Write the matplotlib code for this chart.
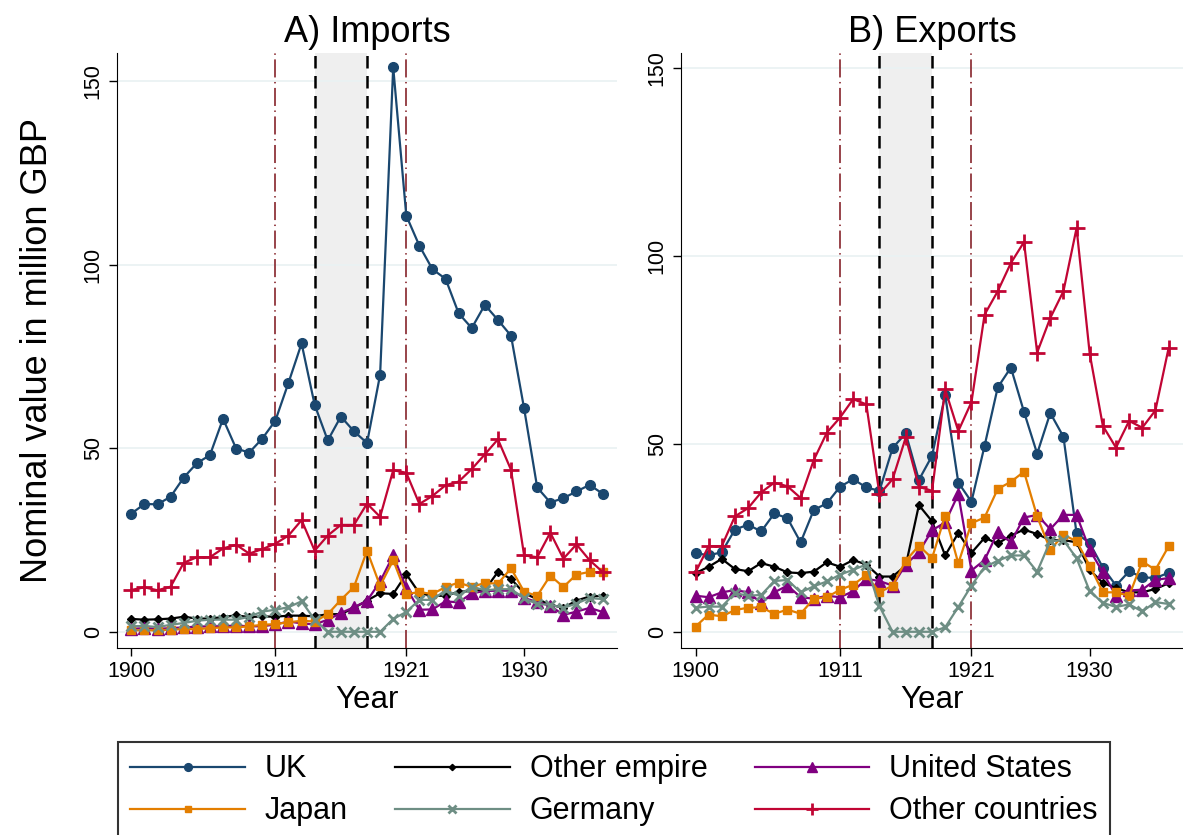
import numpy as np
import matplotlib
matplotlib.use('agg')
import matplotlib.pyplot as plt

plt.rcParams['font.family'] = ['Liberation Sans', 'DejaVu Sans']

years = list(range(1900, 1937))

# imports, million GBP
uk_imp = [32.2, 34.8, 34.7, 36.8, 42.0, 45.9, 48.1, 58.0, 49.9, 48.8,
          52.6, 57.5, 67.8, 78.5, 61.8, 52.1, 58.6, 54.6, 51.4, 70.0,
          153.7, 113.3, 105.1, 98.7, 96.1, 86.7, 82.7, 89.0, 84.9, 80.6,
          60.8, 39.3, 35.2, 36.4, 38.2, 40.0, 37.6]
emp_imp = [3.5, 3.3, 3.4, 3.6, 4.1, 3.6, 3.6, 4.0, 4.5, 4.0,
           4.2, 4.1, 4.4, 4.4, 4.2, 4.8, 4.8, 6.5, 8.5, 10.5,
           10.3, 15.7, 10.5, 9.8, 9.8, 10.9, 11.1, 11.4, 16.3, 14.4,
           10.5, 8.9, 7.4, 6.5, 8.5, 9.6, 9.8]
us_imp = [0.8, 1.0, 0.8, 1.0, 1.2, 1.4, 1.5, 1.5, 1.7, 1.5,
          1.5, 2.0, 2.8, 2.3, 2.0, 3.3, 5.1, 6.7, 8.4, 13.7,
          20.8, 11.9, 6.0, 6.1, 8.3, 8.0, 10.5, 11.1, 11.2, 11.2,
          9.2, 8.1, 7.1, 4.6, 5.5, 6.5, 5.4]
jp_imp = [0.4, 0.4, 0.4, 0.6, 0.7, 0.7, 1.0, 1.2, 1.2, 1.5,
          1.9, 2.1, 2.6, 3.0, 2.8, 4.8, 8.7, 12.2, 22.1, 12.5,
          19.5, 10.3, 10.8, 10.3, 12.2, 13.4, 12.2, 13.3, 13.1, 17.3,
          10.9, 9.8, 15.3, 12.2, 15.6, 16.3, 16.2]
de_imp = [1.5, 1.6, 1.3, 1.9, 2.4, 3.0, 3.3, 3.3, 3.3, 4.1,
          5.5, 6.0, 6.7, 8.3, 3.3, 0.0, 0.0, 0.0, 0.0, 0.0,
          3.5, 5.4, 8.7, 8.7, 11.3, 9.8, 12.3, 11.3, 11.6, 11.6,
          9.2, 7.5, 7.4, 6.5, 7.7, 9.2, 8.9]
oth_imp = [11.4, 12.1, 11.3, 12.3, 18.8, 20.3, 20.3, 22.7, 23.7, 21.3,
           22.5, 24.0, 26.2, 30.4, 22.1, 26.2, 29.1, 29.1, 34.9, 31.3,
           44.0, 43.3, 34.8, 37.0, 39.9, 40.9, 44.3, 48.3, 52.4, 44.1,
           20.8, 20.3, 27.0, 19.9, 23.8, 19.5, 16.3]

# exports, million GBP
uk_exp = [21.0, 20.3, 21.2, 27.2, 28.5, 26.7, 31.5, 30.2, 23.8, 32.4,
          34.2, 38.6, 40.6, 38.4, 37.5, 48.9, 52.8, 40.4, 46.8, 63.0,
          39.7, 34.6, 49.5, 65.0, 70.3, 58.5, 47.4, 58.2, 51.9, 26.2,
          23.6, 17.1, 12.3, 16.1, 14.5, 14.3, 15.7]
emp_exp = [15.6, 17.3, 19.4, 16.7, 16.1, 18.3, 17.3, 15.8, 15.6, 16.0,
           18.5, 17.3, 19.1, 17.9, 14.7, 14.7, 17.6, 33.7, 29.4, 20.3,
           26.3, 21.0, 25.0, 23.5, 25.6, 27.2, 26.0, 24.4, 24.4, 23.8,
           16.5, 13.0, 11.6, 10.5, 10.5, 11.4, 12.9]
us_exp = [9.6, 9.2, 10.5, 11.1, 10.5, 7.7, 10.5, 12.3, 9.2, 8.8,
          9.6, 9.2, 10.8, 14.1, 13.5, 12.3, 17.9, 21.2, 27.0, 29.1,
          36.6, 16.3, 19.1, 26.5, 23.8, 30.4, 31.1, 27.3, 31.1, 31.1,
          21.8, 15.8, 9.6, 11.0, 11.2, 13.8, 14.3]
jp_exp = [1.4, 4.6, 4.1, 5.8, 6.4, 6.5, 4.8, 5.9, 4.8, 8.8,
          9.2, 11.2, 12.5, 15.1, 10.5, 12.3, 18.9, 22.9, 19.6, 30.9,
          18.2, 28.9, 30.4, 38.0, 39.9, 42.6, 30.7, 21.8, 25.8, 24.1,
          17.6, 10.5, 10.5, 9.6, 18.7, 16.5, 22.7]
de_exp = [6.4, 6.7, 6.7, 10.3, 9.6, 9.8, 13.5, 13.8, 10.5, 12.1,
          13.4, 15.2, 16.5, 17.9, 6.8, 0.0, 0.0, 0.0, 0.0, 1.2,
          6.6, 12.3, 17.2, 18.9, 20.3, 20.3, 16.0, 24.1, 24.4, 19.6,
          10.8, 7.7, 6.6, 7.3, 5.4, 7.9, 7.4]
oth_exp = [15.8, 22.8, 22.8, 30.7, 32.9, 37.1, 39.7, 38.7, 35.6, 45.7,
           53.0, 57.0, 61.9, 60.5, 36.6, 40.6, 51.7, 38.6, 37.5, 64.5,
           53.4, 61.1, 84.4, 90.6, 98.1, 103.7, 74.3, 83.5, 90.6, 107.4,
           74.0, 54.8, 49.0, 56.1, 54.3, 58.9, 75.4]

labels = ['UK', 'Other empire', 'United States', 'Japan', 'Germany', 'Other countries']
colors = ['#1a476f', 'black', '#800080', '#e37e00', '#6e8e84', '#c10534']
markers = ['o', 'D', '^', 's', 'x', '+']
msizes = [7, 4, 9, 6, 7.5, 11]
mews = [1, 1, 1, 1, 2, 2]


def draw_panel(ax, series, title, ylim):
    ax.axvspan(1914, 1918, color='#efefef', lw=0, zorder=0)
    for yv in [0, 50, 100, 150]:
        ax.axhline(yv, color='#eaf2f3', lw=1.3, zorder=0.5)
    for x in [1911, 1921]:
        ax.axvline(x, color='#90353b', lw=1.3, ls=(0, (10, 2.5, 0.8, 2.5)), zorder=1)
    for x in [1914, 1918]:
        ax.axvline(x, color='black', lw=1.8, ls=(0, (5, 3)), zorder=1)

    handles = []
    for i, vals in enumerate(series):
        h, = ax.plot(years, vals, color=colors[i], marker=markers[i], ms=msizes[i],
                     mew=mews[i], lw=1.6, label=labels[i], zorder=3 + i)
        handles.append(h)

    ax.set_xlim(1898.9, 1937.1)
    ax.set_ylim(*ylim)
    ax.set_xticks([1900, 1911, 1921, 1930])
    ax.set_yticks([0, 50, 100, 150])
    ax.tick_params(labelsize=15.5, length=6, width=1, colors='black')
    for lab in ax.get_yticklabels():
        lab.set_rotation(90)
        lab.set_va('center')
    ax.spines['top'].set_visible(False)
    ax.spines['right'].set_visible(False)
    ax.set_title(title, fontsize=26, pad=8)
    ax.set_xlabel('Year', fontsize=22.5, labelpad=2)
    return handles


fig = plt.figure(figsize=(11.83, 8.35), dpi=100)
ax1 = fig.add_axes([0.0989, 0.2240, 0.4227, 0.7126])
ax2 = fig.add_axes([0.5757, 0.2240, 0.4243, 0.7126])

hs = draw_panel(ax1, [uk_imp, emp_imp, us_imp, jp_imp, de_imp, oth_imp],
                'A) Imports', (-4.4, 157.6))
draw_panel(ax2, [uk_exp, emp_exp, us_exp, jp_exp, de_exp, oth_exp],
           'B) Exports', (-4.3, 154.0))
ax1.set_ylabel('Nominal value in million GBP', fontsize=26, labelpad=20)

# matplotlib fills legend columns first, so reorder to get Stata row order
order = [0, 3, 1, 4, 2, 5]
leg = fig.legend([hs[i] for i in order], [labels[i] for i in order],
                 loc='upper left', bbox_to_anchor=(118 / 1183, 1 - 742 / 835),
                 ncol=3, fontsize=22, frameon=True, fancybox=False,
                 handlelength=3.75, handletextpad=0.65, columnspacing=1.55,
                 borderpad=0.4, labelspacing=0.4, markerscale=0.8, borderaxespad=0)
leg.get_frame().set_edgecolor('black')
leg.get_frame().set_linewidth(1.5)

fig.savefig('out.png', dpi=100)
